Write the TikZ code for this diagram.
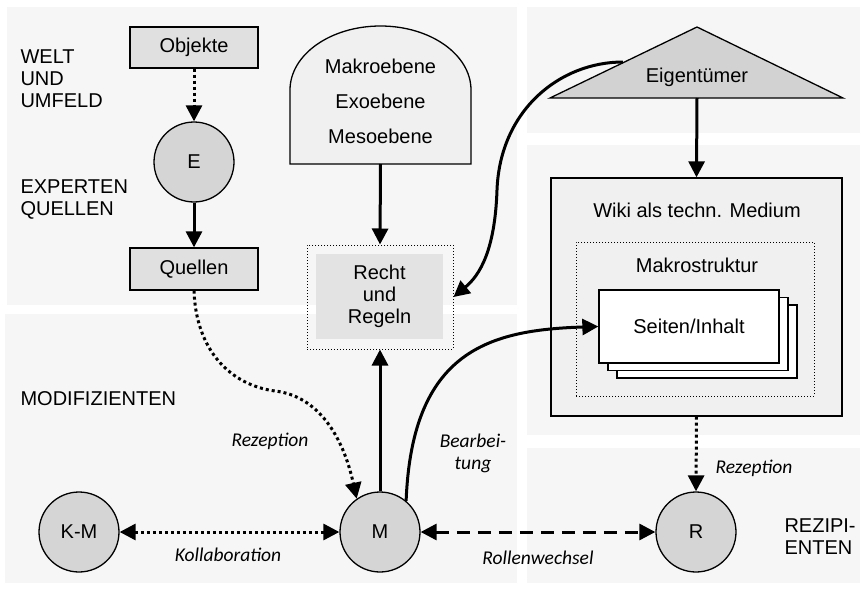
\documentclass[tikz,border=0pt]{standalone}
\usepackage{fontspec}
\setmainfont{Liberation Sans}
\newfontfamily\labelfont{Carlito}
\usetikzlibrary{arrows.meta, positioning}
\definecolor{panelgrau}{HTML}{F6F6F6}
\definecolor{blockgrau}{HTML}{E0E0E0}
\definecolor{rundgrau}{HTML}{D5D5D5}
\definecolor{dachgrau}{HTML}{D2D2D2}
\definecolor{hellgrau}{HTML}{F0F0F0}
\definecolor{rechtgrau}{HTML}{E3E3E3}
\tikzstyle{panel} = [fill=panelgrau, draw=none]
\tikzstyle{block} = [draw, fill=blockgrau, rectangle, line width=1.3pt,
    minimum width=128pt, minimum height=41pt]
\tikzstyle{akteur} = [draw, fill=rundgrau, circle, line width=1.3pt,
    minimum size=80pt, inner sep=0pt]
\tikzstyle{rahmen} = [draw, dotted, line width=1pt, rectangle]
\tikzstyle{seite} = [draw, fill=white, rectangle, line width=1.3pt,
    minimum width=180pt, minimum height=73pt]
\tikzstyle{pfeil} = [line width=3pt, -{Triangle[length=16pt,width=16pt]}]
\tikzstyle{doppelpfeil} = [line width=3pt,
    {Triangle[length=16pt,width=16pt]}-{Triangle[length=16pt,width=16pt]}]
\tikzstyle{punkte} = [dash pattern=on 3pt off 3pt]
\tikzstyle{striche} = [dash pattern=on 13pt off 8pt]
\tikzstyle{etikett} = [font=\labelfont\itshape\fontsize{19.5}{22}\selectfont, align=center]
\tikzstyle{ebene} = [align=left, anchor=west]

\begin{document}
\begin{tikzpicture}[x=1pt, y=-1pt, font=\fontsize{20}{22}\selectfont]
    \useasboundingbox (0,0) rectangle (863,589);
    % hintergrund
    \fill[panel] (7,7) rectangle (517,305);
    \fill[panel] (5,314) rectangle (517,583);
    \fill[panel] (527,7) rectangle (860,133);
    \fill[panel] (527,145) rectangle (860,435);
    \fill[panel] (527,448) rectangle (860,583);

    \node [ebene] (welt) at (17,79) {WELT\\UND\\UMFELD};
    \node [ebene] (experten) at (17,200) {EXPERTEN\\QUELLEN};
    \node [ebene] (modif) at (17,399) {MODIFIZIENTEN};
    \node [ebene] (rezip) at (781,537) {REZIPI-\\ENTEN};

    % linke spalte
    \node [block] (objekte) at (194,47.5) {Objekte};
    \node [akteur] (e) at (194,162) {E};
    \node [block, minimum height=42pt] (quellen) at (194,269) {Quellen};

    % ebenen und regeln
    \draw [fill=hellgrau, line width=1.3pt] (290,164) -- (290,90)
        arc [start angle=180, end angle=0, x radius=90.5pt, y radius=64pt]
        -- (471,164) -- cycle;
    \coordinate (makrofuss) at (380.5,164);
    \node [align=center] (makro) at (380.5,101) {Makroebene\\[13pt]Exoebene\\[13pt]Mesoebene};
    \node [rahmen, minimum width=146pt, minimum height=104pt] (rechtrahmen) at (380,297) {};
    \node [fill=rechtgrau, minimum width=127pt, minimum height=85pt, align=center]
        (recht) at (379.5,296.5) {Recht\\und\\Regeln};

    % eigentuemer und wiki
    \draw [fill=dachgrau, line width=1.3pt] (697,27) -- (843,98) -- (550,98) -- cycle;
    \coordinate (eigfuss) at (697,98);
    \coordinate (eigkante) at (623,62);
    \node (eig) at (697,77) {Eigentümer};
    \node [draw, fill=hellgrau, line width=1.3pt, minimum width=291pt,
        minimum height=238pt] (wiki) at (696.5,297) {};
    \node (wikititel) at (697,210) {Wiki als techn. Medium};
    \node [rahmen, minimum width=238pt, minimum height=154pt] (makrostr) at (695,319) {};
    \node (makrotitel) at (697,265) {Makrostruktur};
    \node [seite] (seite3) at (707,341.5) {};
    \node [seite] (seite2) at (698,334) {};
    \node [seite] (seite1) at (689,326.5) {Seiten/Inhalt};

    % akteure unten
    \node [akteur] (km) at (79,532) {K-M};
    \node [akteur] (m) at (380,532) {M};
    \node [akteur] (r) at (696,532) {R};

    \draw [pfeil, punkte] (objekte) -- (e);
    \draw [pfeil] (e) -- (quellen);
    \draw [pfeil, punkte] (quellen.south) .. controls (196,350) and (230,385) .. (275,391)
        .. controls (318,396) and (343,436) .. (m.125);
    \draw [pfeil] (makrofuss) -- (rechtrahmen.north);
    \draw [pfeil] (m) -- (rechtrahmen.south);
    \draw [pfeil] (eigkante) .. controls (560,62) and (500,110) .. (497,190)
        .. controls (495,250) and (480,275) .. (rechtrahmen.east);
    \draw [pfeil] (m.50) .. controls (412,350) and (490,330) .. (seite1.west);
    \draw [pfeil] (eigfuss) -- (wiki.north);
    \draw [pfeil, punkte] (wiki.south) -- (r.north);
    \draw [doppelpfeil, punkte] (km) -- (m);
    \draw [doppelpfeil, striche] (m) -- (r);

    \node [etikett] (rez1) at (270,441) {Rezeption};
    \node [etikett] (bearb) at (473,453) {Bearbei-\\tung};
    \node [etikett] (rez2) at (754,468) {Rezeption};
    \node [etikett] (kollab) at (228,555) {Kollaboration};
    \node [etikett] (rollen) at (538,558) {Rollenwechsel};
\end{tikzpicture}
\end{document}
